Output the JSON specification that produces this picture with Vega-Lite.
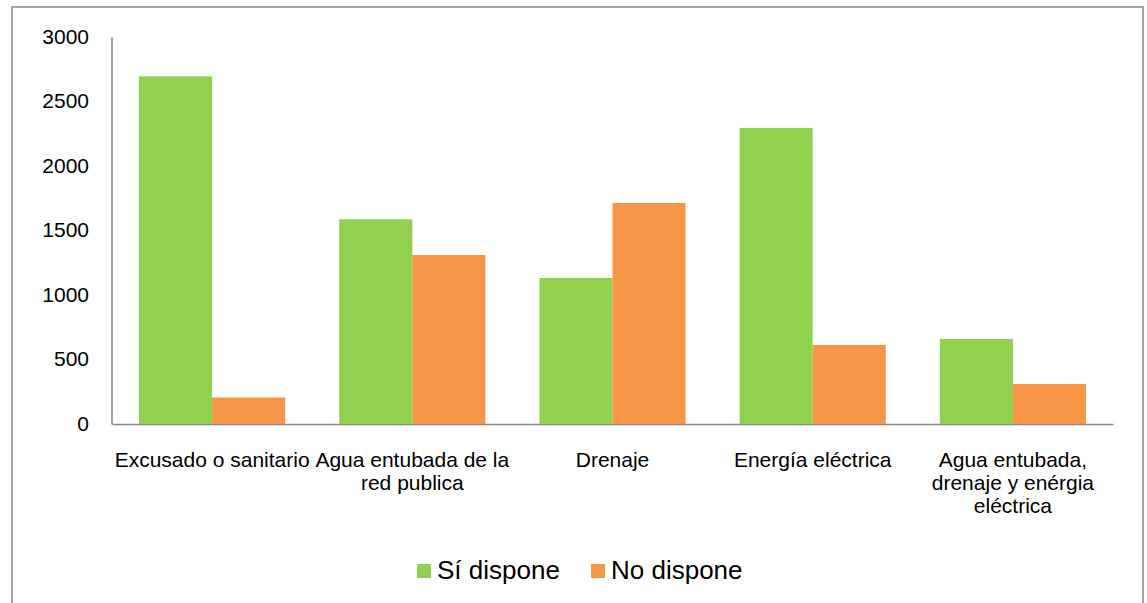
{
  "$schema": "https://vega.github.io/schema/vega-lite/v6.json",
  "width": 1131,
  "height": 598,
  "padding": {"left": 12, "top": 7, "right": 4, "bottom": 0},
  "background": "white",
  "config": {
    "view": {"stroke": "#868686", "strokeWidth": 1.5},
    "font": "Liberation Sans",
    "axis": {"labelFont": "Liberation Sans", "labelColor": "#000000"},
    "legend": {"labelFont": "Liberation Sans", "labelColor": "#000000"}
  },
  "data": {
    "values": [
      {"servicio": "Excusado o sanitario", "estado": "Sí dispone", "valor": 2695},
      {"servicio": "Excusado o sanitario", "estado": "No dispone", "valor": 205},
      {"servicio": "Agua entubada de la red publica", "estado": "Sí dispone", "valor": 1588},
      {"servicio": "Agua entubada de la red publica", "estado": "No dispone", "valor": 1310},
      {"servicio": "Drenaje", "estado": "Sí dispone", "valor": 1132},
      {"servicio": "Drenaje", "estado": "No dispone", "valor": 1713},
      {"servicio": "Energía eléctrica", "estado": "Sí dispone", "valor": 2295},
      {"servicio": "Energía eléctrica", "estado": "No dispone", "valor": 612},
      {"servicio": "Agua entubada, drenaje y enérgia eléctrica", "estado": "Sí dispone", "valor": 659},
      {"servicio": "Agua entubada, drenaje y enérgia eléctrica", "estado": "No dispone", "valor": 310}
    ]
  },
  "mark": {"type": "bar"},
  "encoding": {
    "x": {
      "field": "servicio",
      "type": "nominal",
      "sort": null,
      "title": null,
      "scale": {"range": [100, 1101], "paddingInner": 0.27, "paddingOuter": 0.135},
      "axis": {
        "orient": "bottom",
        "offset": -181,
        "labelAngle": 0,
        "labelAlign": "center",
        "labelBaseline": "top",
        "labelFontSize": 21,
        "labelLineHeight": 23,
        "labelPadding": 25,
        "labelLimit": 0,
        "labelOverlap": false,
        "labelBound": false,
        "ticks": false,
        "domainColor": "#868686",
        "domainWidth": 1.5,
        "labelExpr": "datum.value == 'Agua entubada de la red publica' ? ['Agua entubada de la', 'red publica'] : datum.value == 'Agua entubada, drenaje y enérgia eléctrica' ? ['Agua entubada,', 'drenaje y enérgia', 'eléctrica'] : datum.value"
      }
    },
    "xOffset": {
      "field": "estado",
      "type": "nominal",
      "sort": ["Sí dispone", "No dispone"],
      "scale": {"paddingInner": 0, "paddingOuter": 0}
    },
    "y": {
      "field": "valor",
      "type": "quantitative",
      "title": null,
      "scale": {"domain": [0, 3000], "range": [417, 30], "nice": false},
      "axis": {
        "offset": -99.5,
        "values": [0, 500, 1000, 1500, 2000, 2500, 3000],
        "format": "d",
        "grid": false,
        "ticks": false,
        "labelFontSize": 21,
        "labelPadding": 23,
        "domainColor": "#868686",
        "domainWidth": 1.5
      }
    },
    "color": {
      "field": "estado",
      "type": "nominal",
      "sort": ["Sí dispone", "No dispone"],
      "scale": {"domain": ["Sí dispone", "No dispone"], "range": ["#92D050", "#F79646"]},
      "legend": {
        "title": null,
        "orient": "none",
        "direction": "horizontal",
        "legendX": 399,
        "legendY": 551,
        "padding": 0,
        "symbolType": "square",
        "symbolSize": 196,
        "symbolStrokeWidth": 0,
        "labelFontSize": 26,
        "labelOffset": 0,
        "columnPadding": 25
      }
    }
  }
}
